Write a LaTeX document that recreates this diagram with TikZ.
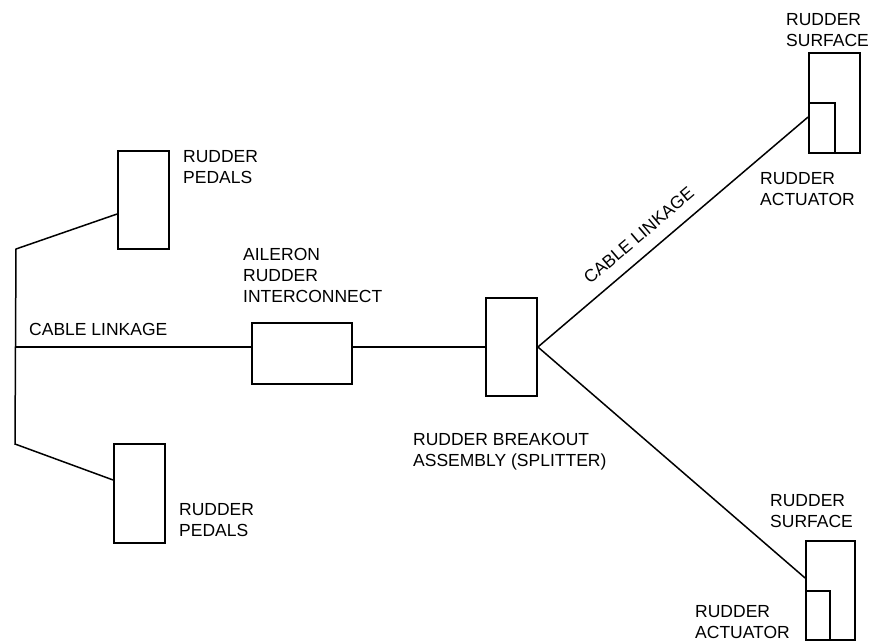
\documentclass[tikz,border=0pt]{standalone}
\usepackage{fontspec}
\setmainfont{Liberation Sans}
\usepackage{tikz}
\usetikzlibrary{positioning,calc}

\begin{document}
\begin{tikzpicture}[x=1pt, y=-1pt,
    box/.style={rectangle, draw=black, line width=1.8pt, inner sep=0pt},
    cable/.style={draw=black, line width=1.5pt, line join=miter},
    lbl/.style={font=\fontsize{17.5}{21}\selectfont, align=left, inner sep=0pt, anchor=north west}]
    \useasboundingbox (0,0) rectangle (872,642);

    % pedals on the left
    \node[box, minimum width=51pt, minimum height=98pt] (pedA) at (143.5,200) {};
    \node[box, minimum width=51pt, minimum height=99pt] (pedB) at (139.5,493.5) {};
    \node[lbl] (pedAL) at (183,150) {RUDDER\\PEDALS};
    \node[lbl] (pedBL) at (179,503) {RUDDER\\PEDALS};

    \coordinate (kTop) at (16,249);
    \coordinate (kBot) at (15,444);
    \coordinate (jL) at (15.5,347);
    \draw[cable] ([yshift=-14pt]pedA.west) -- (kTop) -- (kBot) -- ([yshift=13.5pt]pedB.west);
    \node[lbl] (cableL) at (29,323) {CABLE LINKAGE};

    % interconnect and splitter
    \node[box, minimum width=100pt, minimum height=61pt] (arc) at (302,353.5) {};
    \node[lbl] (arcL) at (243,248) {AILERON\\RUDDER\\INTERCONNECT};
    \node[box, minimum width=51pt, minimum height=98pt] (split) at (511.5,347) {};
    \node[lbl] (splitL) at (413,433) {RUDDER BREAKOUT\\ASSEMBLY (SPLITTER)};

    \draw[cable] (jL) -- (jL -| arc.west);
    \draw[cable] (arc.east |- jL) -- (split.west);

    % rudder surfaces with actuators
    \node[box, minimum width=51pt, minimum height=100pt] (surfT) at (834.5,103) {};
    \node[box, minimum width=26pt, minimum height=50pt] (actT) at (822,128) {};
    \node[lbl] (surfTL) at (786,13) {RUDDER\\SURFACE};
    \node[lbl] (actTL) at (760,172) {RUDDER\\ACTUATOR};

    \node[box, minimum width=49pt, minimum height=99pt] (surfB) at (830.5,590.5) {};
    \node[box, minimum width=24pt, minimum height=49pt] (actB) at (818,615.5) {};
    \node[lbl] (surfBL) at (770,494) {RUDDER\\SURFACE};
    \node[lbl] (actBL) at (695,605) {RUDDER\\ACTUATOR};

    \draw[cable] (split.east) -- node[pos=0.42, sloped, above=12.6pt, inner sep=0pt,
        font=\fontsize{17.5}{21}\selectfont] (cableR) {CABLE LINKAGE} ([yshift=-14pt]surfT.west);
    \draw[cable] (split.east) -- ([yshift=12.5pt]surfB.west);
\end{tikzpicture}
\end{document}
